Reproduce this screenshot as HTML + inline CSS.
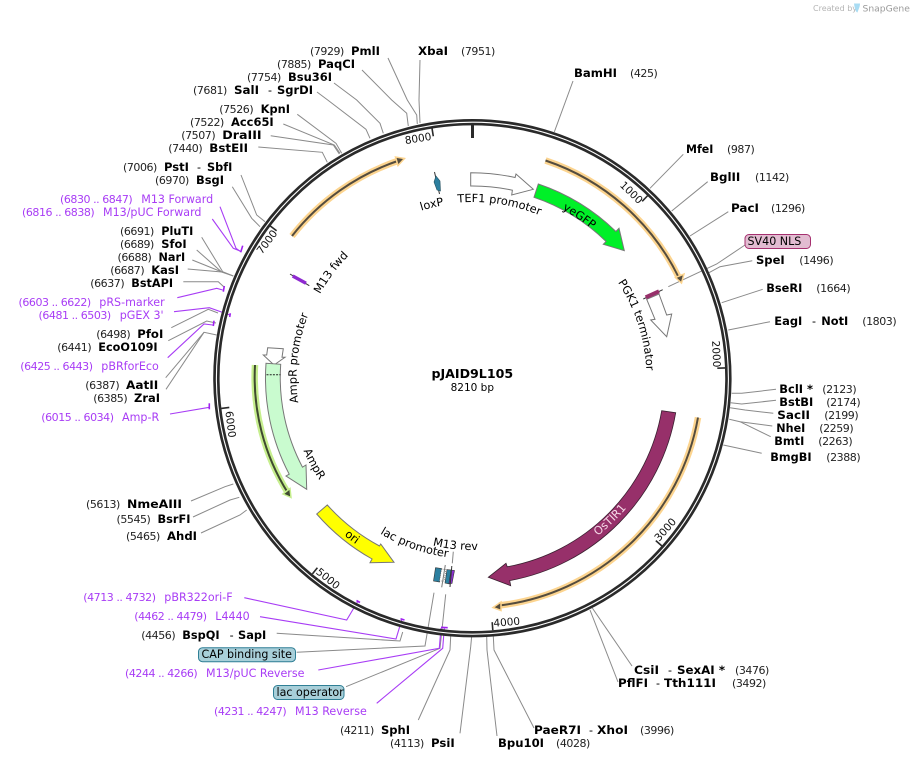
<!DOCTYPE html>
<html><head><meta charset="utf-8"><style>
html,body{margin:0;padding:0;background:#fff}
svg{display:block}
text{font-family:"DejaVu Sans","Liberation Sans",sans-serif;font-size:11.1px;fill:#000}
.n{font-size:11px;letter-spacing:-.45px;fill:#222}
.b{font-weight:bold;font-size:11.3px}
.p{fill:#a83cf5}
.pn{fill:#a83cf5;font-size:11px;letter-spacing:-.45px}
.t{font-size:10.5px;text-anchor:middle;fill:#111}
.f{font-size:11.3px;text-anchor:middle}
.g{fill:none;stroke:#8a8a8a;stroke-width:1}
.v{fill:none;stroke:#a83cf5;stroke-width:1.1}
.m{fill:none;stroke:#a020f0;stroke-width:1.6}
</style></head><body>
<svg width="911" height="760" viewBox="0 0 911 760" xmlns="http://www.w3.org/2000/svg">
<defs>
<path id="c176" d="M472.5 554A176 176 0 1 1 472.5 202A176 176 0 1 1 472.5 554"/>
<path id="c191" d="M472.5 569A191 191 0 1 1 472.5 187A191 191 0 1 1 472.5 569"/>
<path id="c175" d="M472.5 553A175 175 0 1 1 472.5 203A175 175 0 1 1 472.5 553"/>
<path id="c174" d="M472.5 552A174 174 0 1 1 472.5 204A174 174 0 1 1 472.5 552"/>
<path id="c176b" d="M472.5 554A176 176 0 1 1 472.5 202A176 176 0 1 1 472.5 554"/>
<path id="c174b" d="M472.5 552A174 174 0 1 1 472.5 204A174 174 0 1 1 472.5 552"/>
<path id="a201" d="M472.5 176.5A201.5 201.5 0 1 0 472.5 579.5A201.5 201.5 0 1 0 472.5 176.5"/>
<path id="a184" d="M472.5 194A184 184 0 1 0 472.5 562A184 184 0 1 0 472.5 194"/>
<path id="a203" d="M472.5 175A203 203 0 1 0 472.5 581A203 203 0 1 0 472.5 175"/>
<path id="a181" d="M472.5 197A181 181 0 1 0 472.5 559A181 181 0 1 0 472.5 197"/>
<path id="a172" d="M472.5 206A172 172 0 1 0 472.5 550A172 172 0 1 0 472.5 206"/>
</defs>

<!-- connector lines -->
<g>
<path class="g" d="M573 81L554.3 132"/>
<path class="g" d="M683.3 154.3L650 188.3"/>
<path class="g" d="M707.7 181.7L671.7 211"/>
<path class="g" d="M728.3 211.7L690 236"/>
<path class="g" d="M745 245L716.7 264L668.3 286.7"/>
<path class="g" d="M752.3 260.7L720 266.7L709 272.7"/>
<path class="g" d="M762.7 289.3L721.7 302.7"/>
<path class="g" d="M770 321.7L728.3 330"/>
<path class="g" d="M776 389.3L741.7 393.3L731.7 393.3"/>
<path class="g" d="M776 400.3L741.7 404L730.7 402.7"/>
<path class="g" d="M773.3 413.3L745 410L730 407.7"/>
<path class="g" d="M772.3 426L740 421.7L729.3 419.3"/>
<path class="g" d="M770.7 436.7L740 421.7"/>
<path class="g" d="M761.7 453.3L723.3 445"/>
<path class="g" d="M632 666L592.3 608"/>
<path class="g" d="M618 682L590 610"/>
<path class="g" d="M534 728L494 650L493.3 636"/>
<path class="g" d="M497 736L487 650L486.7 636"/>
<path class="g" d="M460 733.3L470.7 646.7L471.7 636"/>
<path class="g" d="M418.3 720L450 650L450.7 636"/>
<path class="g" d="M346 686.7L440 648.3L445.7 594.3"/>
<path class="g" d="M296.7 652.3L425 646L434 592.7"/>
<path class="g" d="M276.7 633.3L400 641L402.7 632"/>
<path class="g" d="M420 60L419 100L420 123"/>
<path class="g" d="M388 58L407.3 100L416.7 115L417.3 124"/>
<path class="g" d="M362 70L391.7 100L406.7 113.3L408.3 126"/>
<path class="g" d="M334 83L356.7 100L380 123.3L383.3 133.3"/>
<path class="g" d="M317 92L327.7 100L366 129.3L370 138.3"/>
<path class="g" d="M297.3 114.3L336 143.3L341.7 153.3"/>
<path class="g" d="M283.3 124L334.3 145L340 153.3"/>
<path class="g" d="M270.7 135.7L333.3 145L339.3 154"/>
<path class="g" d="M258.3 147L322.3 152.3L327.3 162.3"/>
<path class="g" d="M241 175L256.7 215L265 221.7"/>
<path class="g" d="M232.3 186.7L251.7 218.3L260 226.7"/>
<path class="g" d="M201.7 237.3L222.7 271.7L233.3 276"/>
<path class="g" d="M196.7 250L221.7 272L233.3 276"/>
<path class="g" d="M192.3 260L222 272"/>
<path class="g" d="M187.7 269L222 272"/>
<path class="g" d="M183.3 281.7L218.3 281.7L224 287"/>
<path class="g" d="M171.3 327.7L208.3 309.3L218 313"/>
<path class="g" d="M168.3 340.7L206.7 321L216 323"/>
<path class="g" d="M165.7 377.7L204 332.3L216.7 335"/>
<path class="g" d="M166 389.3L204 332.3"/>
<path class="g" d="M191 501L225 486.7L233.3 484"/>
<path class="g" d="M193 517L230 500L239.3 497.3"/>
<path class="g" d="M201 533L240 515L246.7 510"/>
<path class="v" d="M220 206.7L236 248.3L240.7 251.7"/>
<path class="v" d="M212.3 219L233.3 248.3L240 251"/>
<path class="v" d="M177.3 297.7L216.7 288.3L222.7 290"/>
<path class="v" d="M174 311.7L209.3 307.7L230 315"/>
<path class="v" d="M167.7 357.7L204 324L212.7 325"/>
<path class="v" d="M170 414L209.3 407.3"/>
<path class="v" d="M244.3 597.7L346.7 620L358 601"/>
<path class="v" d="M260 616.7L396 639L402 619"/>
<path class="v" d="M318.3 670L439.3 648.3L441 628"/>
<path class="v" d="M376.7 703.3L442.7 648.3L444.3 628"/>
</g>
<g>
<path class="m" d="M242.7 245.7L240.7 252.3"/>
<path class="m" d="M224.3 286L223.3 291.7"/>
<path class="m" d="M230.3 313.3L229.7 317"/>
<path class="m" d="M214 320.7L213.3 326"/>
<path class="m" d="M209.3 403.3L209.3 409.3"/>
<path class="m" d="M356.5 600.5L360 602.5"/>
<path class="m" d="M400.5 618.7L404.5 620"/>
<path class="m" d="M441 627.3L447.7 627.7"/>
</g>

<!-- backbone -->
<circle cx="472.4" cy="378.2" r="256" fill="none" stroke="#2a2a2a" stroke-width="6.4"/>
<circle cx="472.4" cy="378.2" r="256" fill="none" stroke="#fff" stroke-width="1.1"/>
<path d="M472.5 125V138" stroke="#2a2a2a" stroke-width="3" fill="none"/>
<g stroke="#2a2a2a" stroke-width="1.6" fill="none">
<path d="M647.8 195.5L642.2 201.3"/>
<path d="M725.3 367.9L717.3 368.2"/>
<path d="M661.8 545.9L655.8 540.6"/>
<path d="M492.8 630.2L492.2 622.2"/>
<path d="M312.4 573.9L317.4 567.7"/>
<path d="M221.3 408.4L229.3 407.4"/>
<path d="M270.3 226L276.6 230.8"/>
<path d="M432 128.3L433.3 136.2"/>
</g>
<text class="t" transform="translate(631.7 192.3) rotate(43.85)" y="4">1000</text>
<text class="t" transform="translate(716.7 354) rotate(87.7)" y="4">2000</text>
<text class="t" transform="translate(665 529.3) rotate(-48.5)" y="4">3000</text>
<text class="t" transform="translate(506.7 621.7) rotate(-4.6)" y="4">4000</text>
<text class="t" transform="translate(328.3 578.3) rotate(39.2)" y="4">5000</text>
<text class="t" transform="translate(231 424.3) rotate(83)" y="4">6000</text>
<text class="t" transform="translate(266.7 241.7) rotate(-53)" y="4">7000</text>
<text class="t" transform="translate(418 138) rotate(-9.2)" y="4">8000</text>

<!-- ORF arcs -->
<g fill="none" stroke-linecap="butt">
<path d="M292 236A229.7 229.7 0 0 1 399 160.5" stroke="#fcd48f" stroke-width="6.5"/>
<path d="M292 236A229.7 229.7 0 0 1 399 160.5" stroke="#544c3e" stroke-width="2"/>
<path d="M545.5 160.5A229.5 229.5 0 0 1 679 278" stroke="#fcd48f" stroke-width="6.5"/>
<path d="M545.5 160.5A229.5 229.5 0 0 1 679 278" stroke="#544c3e" stroke-width="2"/>
<path d="M698 417.5A229.5 229.5 0 0 1 499 605.5" stroke="#fcd48f" stroke-width="6.5"/>
<path d="M698 417.5A229.5 229.5 0 0 1 499 605.5" stroke="#544c3e" stroke-width="2"/>
<path d="M255 365A217.5 217.5 0 0 0 288 493" stroke="#c6ee8e" stroke-width="6.5"/>
<path d="M255 365A217.5 217.5 0 0 0 288 493" stroke="#3f4a30" stroke-width="2"/>
</g>
<path d="M404.5 158.5L395.5 157L398 165.5Z" fill="#544c3e" stroke="#fcd48f" stroke-width="1.5"/>
<path d="M681.5 283L684 274L675.5 277.5Z" fill="#544c3e" stroke="#fcd48f" stroke-width="1.5"/>
<path d="M493 607.5L501 602L501 610.5Z" fill="#544c3e" stroke="#fcd48f" stroke-width="1.5"/>
<path d="M291 497.5L283 494L290 488.5Z" fill="#3f4a30" stroke="#c6ee8e" stroke-width="1.5"/>

<!-- features -->
<g stroke="#777" stroke-width="1">
<path fill="#fff" d="M470.7 172.7A205 205 0 0 1 515.1 177.5L516 174L533.3 189.3L511.7 195L512.4 190.2A192 192 0 0 0 470.7 186Z"/>
<path fill="#00f028" d="M538.3 184A205 205 0 0 1 615.9 231.5L619 228.3L624.3 250.7L603.3 244.3L606.1 241.5A191 191 0 0 0 534 197.3Z"/>
<path fill="#fff" d="M646.7 299.3L655 319.3L650.7 320L666.7 336.7L671.7 314L666.7 315L659 294Z"/>
<path fill="#fff" d="M267.7 347.7L283.3 348.7L282 357.3L285 357.3L274 365L263.3 355L266.7 355Z"/>
<path fill="#c9fbcf" d="M266 363.3A207 207 0 0 0 289.2 474.2L286 476L306.7 489.3L306 465L302.5 467.2A192 192 0 0 1 280.7 364.3Z"/>
<path fill="#ffff00" d="M327.3 505A192 192 0 0 0 379.5 546L380.7 544L394 562.3L370 562.7L372.1 559A207 207 0 0 1 316.7 514Z"/>
</g>
<path d="M266.5 374.7H280.5" stroke="#222" stroke-width="1" stroke-dasharray="2 1.2" fill="none"/>
<path fill="#97306a" stroke="#3a2030" stroke-width=".8" d="M675.7 412.7A206 206 0 0 1 509.7 580.6L510.7 585.7L488.3 577.3L506 563.3L507.2 566.8A192 192 0 0 0 661.7 410.7Z"/>

<!-- small features -->
<path d="M434.5 172L439.5 194" stroke="#333" stroke-width="1" fill="none"/>
<path d="M436 176L440 181L440.5 191L437 190L434 182Z" fill="#2c7f9f" stroke="#24505f" stroke-width=".6"/>
<path d="M643.3 299L662.7 289.7" stroke="#333" stroke-width="1" fill="none"/>
<path d="M645.7 297.3L659 291.3" stroke="#97306a" stroke-width="4" fill="none"/>
<path d="M290 274L309.3 285.7" stroke="#333" stroke-width="1" fill="none"/>
<path d="M292.7 276L306 283.3" stroke="#8e2ad0" stroke-width="3.4" fill="none"/>
<path d="M435.5 567.7L441.5 568.5L439.5 582L433.5 581Z" fill="#2c7f9f" stroke="#333" stroke-width=".6"/>
<path d="M441.5 569L446 569.5L444 581L439.5 581Z" fill="#fff" stroke="#555" stroke-width=".6" stroke-dasharray="1 1"/>
<path d="M447 569.5L451 570L449.5 584L445 583Z" fill="#2c7f9f" stroke="#333" stroke-width=".6"/>
<path d="M451 570L454.5 570.5L452 583.5L449 583.5Z" fill="#8a30d0" stroke="#333" stroke-width=".6"/>
<path d="M445.3 565L441.7 587.3" stroke="#777" stroke-width="1" fill="none"/>
<path d="M453.3 551.7L452.3 563.3" stroke="#888" stroke-width="1" fill="none"/>
<path d="M451.8 566L450 587" stroke="#333" stroke-width="1" fill="none"/>

<!-- curved labels -->
<text class="f"><textPath href="#c176" startOffset="52.44%">TEF1 promoter</textPath></text>
<text class="f"><textPath href="#c191" startOffset="59.28%">yeGFP</textPath></text>
<text class="f"><textPath href="#c175" startOffset="46.33%">loxP</textPath></text>
<text class="f"><textPath href="#c174" startOffset="35.19%">M13 fwd</textPath></text>
<text class="f"><textPath href="#c176b" startOffset="26.81%">AmpR promoter</textPath></text>
<text class="f"><textPath href="#c174b" startOffset="70.03%">PGK1 terminator</textPath></text>
<text class="f" style="fill:#f4d7e6"><textPath href="#a201" startOffset="62.25%">OsTIR1</textPath></text>
<text class="f"><textPath href="#a184" startOffset="32.92%">AmpR</textPath></text>
<text class="f"><textPath href="#a203" startOffset="39.69%">ori</textPath></text>
<text class="f"><textPath href="#a181" startOffset="44.64%">lac promoter</textPath></text>
<text class="f"><textPath href="#a172" startOffset="48.39%">M13 rev</textPath></text>

<!-- center -->
<text x="472.3" y="378" text-anchor="middle" class="b" style="font-size:12.6px">pJAID9L105</text>
<text x="472.3" y="391" text-anchor="middle" style="font-size:10.5px">8210 bp</text>

<!-- top labels -->
<text class="n" x="310" y="55">(7929)</text><text class="b" x="351" y="55" textLength="29" lengthAdjust="spacingAndGlyphs">PmlI</text>
<text class="b" x="418" y="55" textLength="30" lengthAdjust="spacingAndGlyphs">XbaI</text><text class="n" x="461" y="55">(7951)</text>
<text class="n" x="277" y="68">(7885)</text><text class="b" x="318" y="68" textLength="37" lengthAdjust="spacingAndGlyphs">PaqCI</text>
<text class="n" x="247" y="81">(7754)</text><text class="b" x="288" y="81" textLength="44" lengthAdjust="spacingAndGlyphs">Bsu36I</text>
<text class="n" x="193" y="94">(7681)</text><text class="b" x="234" y="94" textLength="25" lengthAdjust="spacingAndGlyphs">SalI</text><text x="268" y="94">-</text><text class="b" x="277" y="94" textLength="36" lengthAdjust="spacingAndGlyphs">SgrDI</text>
<text class="n" x="219.3" y="113">(7526)</text><text class="b" x="260.7" y="113" textLength="29.3" lengthAdjust="spacingAndGlyphs">KpnI</text>
<text class="n" x="190" y="126">(7522)</text><text class="b" x="231" y="126" textLength="42.7" lengthAdjust="spacingAndGlyphs">Acc65I</text>
<text class="n" x="181.3" y="139">(7507)</text><text class="b" x="222.3" y="139" textLength="39.3" lengthAdjust="spacingAndGlyphs">DraIII</text>
<text class="n" x="168.3" y="152">(7440)</text><text class="b" x="209.3" y="152" textLength="38.7" lengthAdjust="spacingAndGlyphs">BstEII</text>
<text class="n" x="123" y="171">(7006)</text><text class="b" x="164" y="171" textLength="25" lengthAdjust="spacingAndGlyphs">PstI</text><text x="197" y="171">-</text><text class="b" x="207" y="171" textLength="25.3" lengthAdjust="spacingAndGlyphs">SbfI</text>
<text class="n" x="155" y="184">(6970)</text><text class="b" x="196" y="184" textLength="28" lengthAdjust="spacingAndGlyphs">BsgI</text>

<!-- left labels -->
<text class="pn" x="60" y="203">(6830 .. 6847)</text><text class="p" x="141.3" y="203">M13 Forward</text>
<text class="pn" x="22" y="216">(6816 .. 6838)</text><text class="p" x="103" y="216">M13/pUC Forward</text>
<text class="n" x="120" y="235">(6691)</text><text class="b" x="161.3" y="235" textLength="32" lengthAdjust="spacingAndGlyphs">PluTI</text>
<text class="n" x="120" y="248">(6689)</text><text class="b" x="161.3" y="248" textLength="25.3" lengthAdjust="spacingAndGlyphs">SfoI</text>
<text class="n" x="117.5" y="261">(6688)</text><text class="b" x="158.5" y="261" textLength="26.7" lengthAdjust="spacingAndGlyphs">NarI</text>
<text class="n" x="110.3" y="274">(6687)</text><text class="b" x="151.3" y="274" textLength="27.7" lengthAdjust="spacingAndGlyphs">KasI</text>
<text class="n" x="90.3" y="287">(6637)</text><text class="b" x="131.3" y="287" textLength="41.7" lengthAdjust="spacingAndGlyphs">BstAPI</text>
<text class="pn" x="18.5" y="306">(6603 .. 6622)</text><text class="p" x="99.3" y="306">pRS-marker</text>
<text class="pn" x="38.5" y="319">(6481 .. 6503)</text><text class="p" x="119.7" y="319">pGEX 3'</text>
<text class="n" x="96.3" y="338">(6498)</text><text class="b" x="137.3" y="338" textLength="26" lengthAdjust="spacingAndGlyphs">PfoI</text>
<text class="n" x="57.3" y="351">(6441)</text><text class="b" x="98.3" y="351" textLength="59.3" lengthAdjust="spacingAndGlyphs">EcoO109I</text>
<text class="pn" x="20.3" y="370">(6425 .. 6443)</text><text class="p" x="101.3" y="370">pBRforEco</text>
<text class="n" x="85.3" y="389">(6387)</text><text class="b" x="126" y="389" textLength="32.3" lengthAdjust="spacingAndGlyphs">AatII</text>
<text class="n" x="93.3" y="402">(6385)</text><text class="b" x="134" y="402" textLength="26" lengthAdjust="spacingAndGlyphs">ZraI</text>
<text class="pn" x="41.3" y="421">(6015 .. 6034)</text><text class="p" x="122" y="421">Amp-R</text>
<text class="n" x="86" y="508">(5613)</text><text class="b" x="127" y="508" textLength="55" lengthAdjust="spacingAndGlyphs">NmeAIII</text>
<text class="n" x="116.5" y="523">(5545)</text><text class="b" x="157.5" y="523" textLength="33" lengthAdjust="spacingAndGlyphs">BsrFI</text>
<text class="n" x="126" y="540">(5465)</text><text class="b" x="167" y="540" textLength="30" lengthAdjust="spacingAndGlyphs">AhdI</text>

<!-- bottom left labels -->
<text class="pn" x="83.3" y="601">(4713 .. 4732)</text><text class="p" x="164.3" y="601">pBR322ori-F</text>
<text class="pn" x="134.3" y="620">(4462 .. 4479)</text><text class="p" x="215.3" y="620">L4440</text>
<text class="n" x="141.3" y="639">(4456)</text><text class="b" x="182.3" y="639" textLength="37.3" lengthAdjust="spacingAndGlyphs">BspQI</text><text x="229.6" y="639">-</text><text class="b" x="238" y="639" textLength="28.3" lengthAdjust="spacingAndGlyphs">SapI</text>
<rect x="198.5" y="647.7" width="97" height="14" rx="4" fill="#a8cfd9" stroke="#2f7f95" stroke-width="1"/>
<text x="201.5" y="658">CAP binding site</text>
<text class="pn" x="125" y="677">(4244 .. 4266)</text><text class="p" x="206" y="677">M13/pUC Reverse</text>
<rect x="273.5" y="685.5" width="70.5" height="14" rx="4" fill="#a8cfd9" stroke="#2f7f95" stroke-width="1"/>
<text x="276.5" y="696">lac operator</text>
<text class="pn" x="214" y="715">(4231 .. 4247)</text><text class="p" x="295" y="715">M13 Reverse</text>
<text class="n" x="340" y="734">(4211)</text><text class="b" x="381" y="734" textLength="29" lengthAdjust="spacingAndGlyphs">SphI</text>
<text class="n" x="390" y="747">(4113)</text><text class="b" x="431" y="747" textLength="23.7" lengthAdjust="spacingAndGlyphs">PsiI</text>

<!-- bottom right labels -->
<text class="b" x="534" y="734" textLength="47" lengthAdjust="spacingAndGlyphs">PaeR7I</text><text x="589" y="734">-</text><text class="b" x="597" y="734" textLength="31" lengthAdjust="spacingAndGlyphs">XhoI</text><text class="n" x="640" y="734">(3996)</text>
<text class="b" x="498" y="747" textLength="46" lengthAdjust="spacingAndGlyphs">Bpu10I</text><text class="n" x="556" y="747">(4028)</text>
<text class="b" x="634" y="674" textLength="25" lengthAdjust="spacingAndGlyphs">CsiI</text><text x="668" y="674">-</text><text class="b" x="677" y="674" textLength="48" lengthAdjust="spacingAndGlyphs">SexAI *</text><text class="n" x="735" y="674">(3476)</text>
<text class="b" x="618" y="687" textLength="30" lengthAdjust="spacingAndGlyphs">PflFI</text><text x="656" y="687">-</text><text class="b" x="664" y="687" textLength="52" lengthAdjust="spacingAndGlyphs">Tth111I</text><text class="n" x="732" y="687">(3492)</text>

<!-- right labels -->
<text class="b" x="574" y="77" textLength="43" lengthAdjust="spacingAndGlyphs">BamHI</text><text class="n" x="630" y="77">(425)</text>
<text class="b" x="686" y="153" textLength="27.3" lengthAdjust="spacingAndGlyphs">MfeI</text><text class="n" x="727" y="153">(987)</text>
<text class="b" x="710" y="181" textLength="30.3" lengthAdjust="spacingAndGlyphs">BglII</text><text class="n" x="755" y="181">(1142)</text>
<text class="b" x="731" y="212" textLength="28" lengthAdjust="spacingAndGlyphs">PacI</text><text class="n" x="771" y="212">(1296)</text>
<rect x="745" y="234.5" width="65.5" height="14" rx="4" fill="#e2bcd1" stroke="#a5306f" stroke-width="1"/>
<text x="747.5" y="245">SV40 NLS</text>
<text class="b" x="756" y="264" textLength="28.7" lengthAdjust="spacingAndGlyphs">SpeI</text><text class="n" x="799.3" y="264">(1496)</text>
<text class="b" x="766.3" y="292" textLength="36" lengthAdjust="spacingAndGlyphs">BseRI</text><text class="n" x="816.3" y="292">(1664)</text>
<text class="b" x="774.3" y="325" textLength="28" lengthAdjust="spacingAndGlyphs">EagI</text><text x="812" y="325">-</text><text class="b" x="821.3" y="325" textLength="27" lengthAdjust="spacingAndGlyphs">NotI</text><text class="n" x="862.3" y="325">(1803)</text>
<text class="b" x="779.3" y="393" textLength="33.7" lengthAdjust="spacingAndGlyphs">BclI *</text><text class="n" x="822.3" y="393">(2123)</text>
<text class="b" x="779.3" y="406" textLength="34" lengthAdjust="spacingAndGlyphs">BstBI</text><text class="n" x="826.3" y="406">(2174)</text>
<text class="b" x="777.3" y="419" textLength="32.7" lengthAdjust="spacingAndGlyphs">SacII</text><text class="n" x="824.3" y="419">(2199)</text>
<text class="b" x="776.3" y="432" textLength="29" lengthAdjust="spacingAndGlyphs">NheI</text><text class="n" x="819.3" y="432">(2259)</text>
<text class="b" x="774.3" y="445" textLength="30" lengthAdjust="spacingAndGlyphs">BmtI</text><text class="n" x="818.3" y="445">(2263)</text>
<text class="b" x="770.3" y="461" textLength="41.3" lengthAdjust="spacingAndGlyphs">BmgBI</text><text class="n" x="826.3" y="461">(2388)</text>

<!-- credit -->
<text x="813" y="11" style="font-size:8px;fill:#b5b5b5">Created by</text>
<path d="M854 3.5H860C860 7 858.5 9 857.5 12.5C856 12.5 854.5 8 854 3.5Z" fill="#a9dcf3"/>
<text x="862.5" y="11.5" style="font-size:9.2px;fill:#9a9a9a">SnapGene</text>
</svg>
</body></html>
